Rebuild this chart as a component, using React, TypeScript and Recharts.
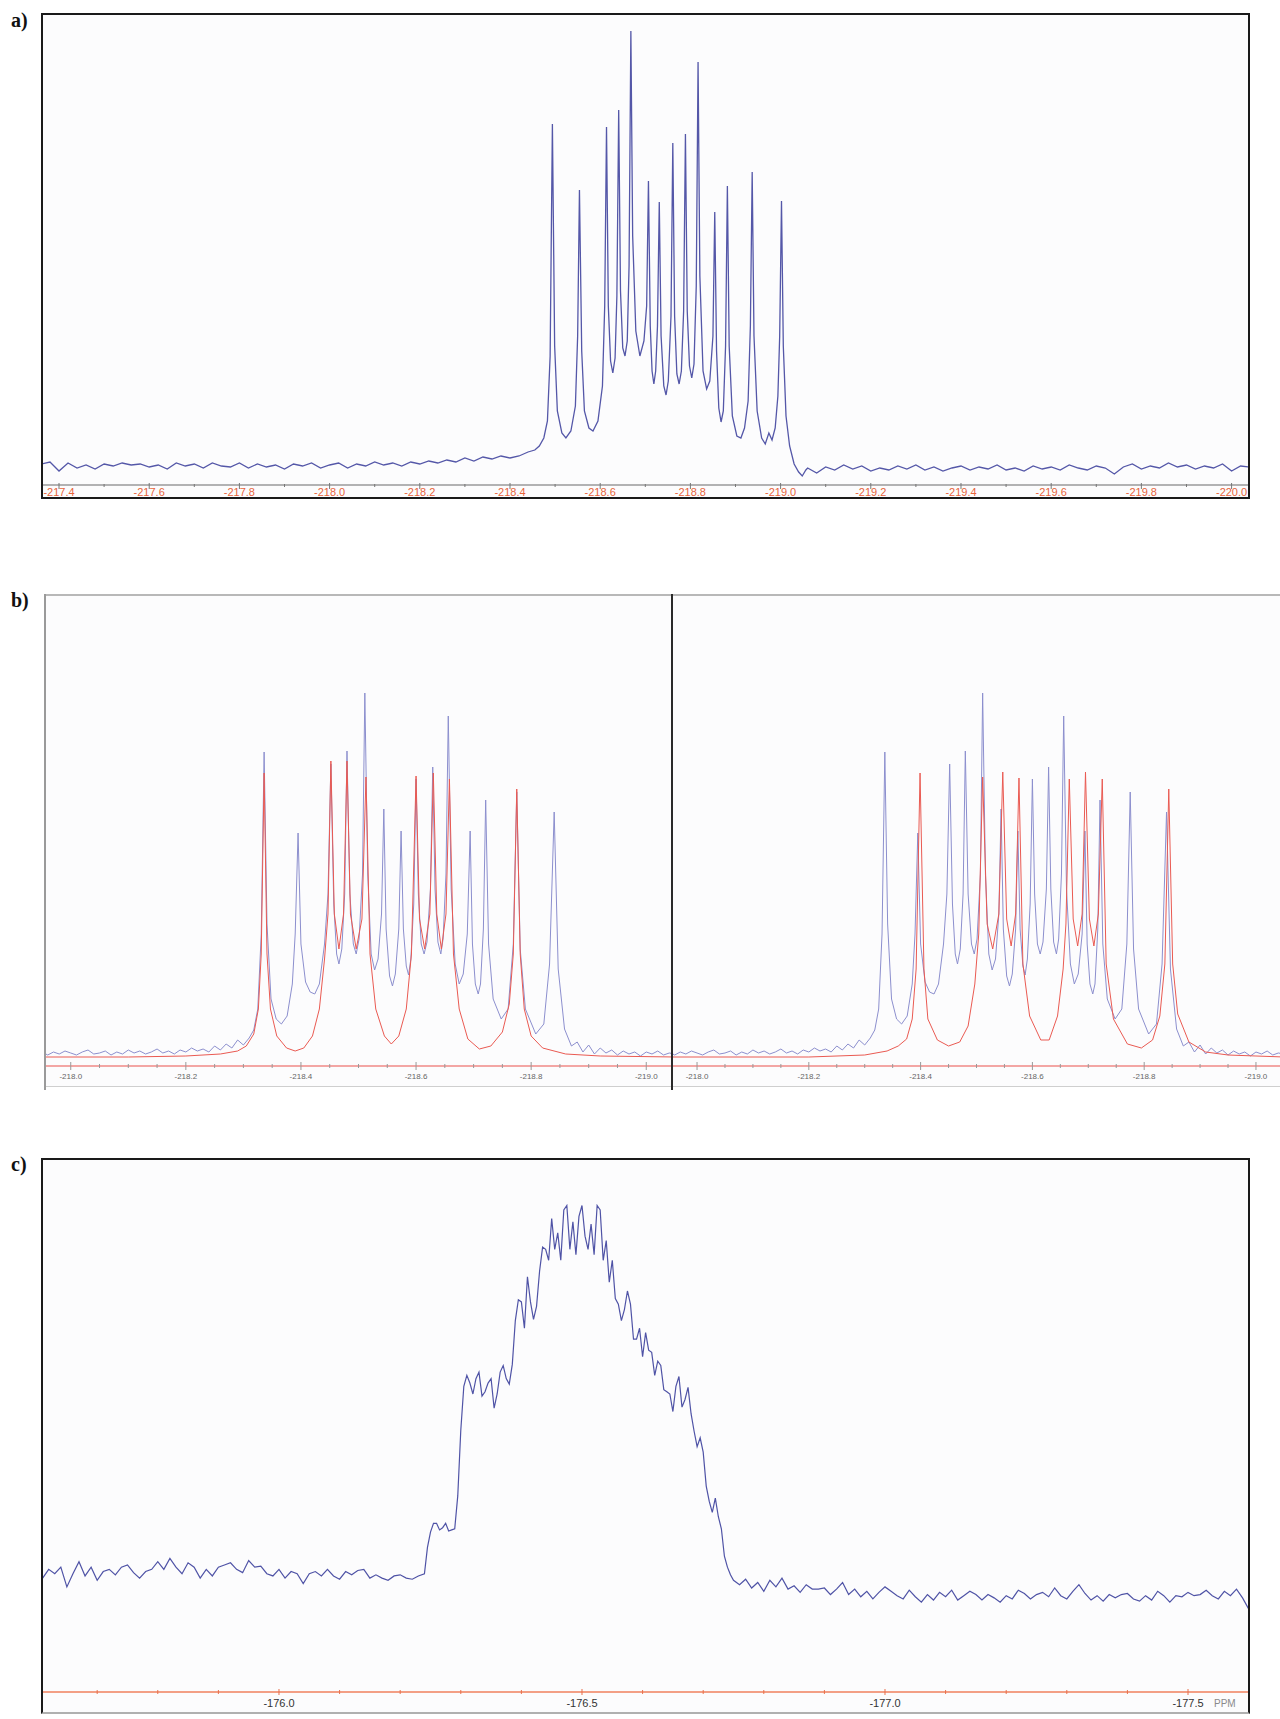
import React from "react";
import { LineChart, Line, XAxis, YAxis } from "recharts";

type Pt = [number, number];

// a) full 19F spectrum, ppm vs intensity (arbitrary units)
const aSpectrum: Pt[] = [
  [-217.36, 2], [-217.38, 4], [-217.4, -5], [-217.42, 3], [-217.44, -2], [-217.46, 1], [-217.48, -3],
  [-217.5, 2], [-217.52, 0], [-217.54, 3], [-217.56, 1], [-217.58, 2], [-217.6, -1], [-217.62, 1],
  [-217.64, -3], [-217.66, 3], [-217.68, 0], [-217.7, 2], [-217.72, -2], [-217.74, 3], [-217.76, 0],
  [-217.78, -1], [-217.8, 3], [-217.82, -2], [-217.84, 2], [-217.86, -1], [-217.88, 1], [-217.9, -3],
  [-217.92, 2], [-217.94, 0], [-217.96, 3], [-217.98, -2], [-218.0, 1], [-218.02, 3], [-218.04, -2],
  [-218.06, 2], [-218.08, 0], [-218.1, 4], [-218.12, 1], [-218.14, 3], [-218.16, 0], [-218.18, 4],
  [-218.2, 2], [-218.22, 5], [-218.24, 3], [-218.26, 6], [-218.28, 4], [-218.3, 8], [-218.32, 5],
  [-218.34, 9], [-218.36, 7], [-218.38, 10], [-218.4, 8], [-218.42, 10], [-218.44, 14], [-218.455, 16],
  [-218.465, 20], [-218.475, 28], [-218.483, 45], [-218.489, 110], [-218.494, 342], [-218.499, 120],
  [-218.505, 55], [-218.515, 33], [-218.524, 28], [-218.535, 35], [-218.545, 60], [-218.55, 130],
  [-218.554, 276], [-218.559, 115], [-218.565, 55], [-218.575, 38], [-218.584, 35], [-218.595, 45],
  [-218.605, 80], [-218.61, 160], [-218.614, 339], [-218.618, 160], [-218.623, 105], [-218.628, 93],
  [-218.633, 108], [-218.637, 170], [-218.641, 356], [-218.645, 175], [-218.65, 118], [-218.655, 110],
  [-218.66, 125], [-218.664, 200], [-218.668, 435], [-218.672, 230], [-218.679, 135], [-218.688, 110],
  [-218.697, 125], [-218.703, 160], [-218.707, 285], [-218.711, 140], [-218.715, 95], [-218.719, 82],
  [-218.723, 95], [-218.727, 140], [-218.731, 264], [-218.735, 130], [-218.741, 80], [-218.746, 71],
  [-218.751, 85], [-218.757, 150], [-218.761, 323], [-218.765, 150], [-218.77, 92], [-218.775, 82],
  [-218.78, 95], [-218.785, 155], [-218.789, 332], [-218.793, 155], [-218.798, 100], [-218.803, 88],
  [-218.808, 102], [-218.813, 180], [-218.817, 404], [-218.821, 190], [-218.828, 95], [-218.836, 77],
  [-218.843, 85], [-218.85, 130], [-218.854, 254], [-218.858, 115], [-218.863, 58], [-218.868, 44],
  [-218.873, 55], [-218.878, 120], [-218.882, 280], [-218.886, 120], [-218.893, 50], [-218.903, 30],
  [-218.912, 28], [-218.92, 38], [-218.928, 65], [-218.933, 140], [-218.937, 294], [-218.941, 130],
  [-218.948, 55], [-218.958, 28], [-218.966, 22], [-218.974, 33], [-218.981, 26], [-218.988, 38],
  [-218.994, 70], [-218.998, 130], [-219.002, 265], [-219.006, 120], [-219.012, 50], [-219.02, 20],
  [-219.03, 2], [-219.04, -6], [-219.048, -10], [-219.056, -4], [-219.06, -2], [-219.08, -7],
  [-219.1, -1], [-219.12, -4], [-219.14, 1], [-219.16, -3], [-219.18, 0], [-219.2, -5], [-219.22, -2],
  [-219.24, -4], [-219.26, 0], [-219.28, -3], [-219.3, 1], [-219.32, -4], [-219.34, -1], [-219.36, -5],
  [-219.38, -2], [-219.4, 0], [-219.42, -4], [-219.44, -1], [-219.46, -3], [-219.48, 1], [-219.5, -4],
  [-219.52, -2], [-219.54, -5], [-219.56, 0], [-219.58, -3], [-219.6, -1], [-219.62, -4], [-219.64, 1],
  [-219.66, -2], [-219.68, -4], [-219.7, 0], [-219.72, -2], [-219.74, -8], [-219.76, -1], [-219.78, 2],
  [-219.8, -3], [-219.82, 0], [-219.84, -2], [-219.86, 3], [-219.88, -1], [-219.9, 1], [-219.92, -3],
  [-219.94, 0], [-219.96, -2], [-219.98, 2], [-220.0, -5], [-220.02, 0], [-220.04, -1],
];

// b) observed multiplet (blue), same in both halves
const bObserved: Pt[] = [
  [-217.95, 2], [-217.96, -1], [-217.97, 2], [-217.98, 0], [-217.99, 3], [-218.0, 1], [-218.01, -1],
  [-218.02, 2], [-218.03, 4], [-218.04, 0], [-218.05, 1], [-218.06, 3], [-218.07, -1], [-218.08, 2],
  [-218.09, 0], [-218.1, 4], [-218.11, 1], [-218.12, 3], [-218.13, 0], [-218.14, 2], [-218.15, 5],
  [-218.16, 1], [-218.17, 3], [-218.18, 0], [-218.19, 4], [-218.2, 2], [-218.21, 6], [-218.22, 3],
  [-218.23, 5], [-218.24, 2], [-218.25, 8], [-218.26, 4], [-218.27, 10], [-218.28, 6], [-218.29, 14],
  [-218.3, 9], [-218.31, 16], [-218.318, 24], [-218.325, 45], [-218.331, 120], [-218.336, 302],
  [-218.341, 130], [-218.348, 55], [-218.357, 35], [-218.366, 30], [-218.376, 38], [-218.385, 70],
  [-218.39, 120], [-218.395, 221], [-218.4, 110], [-218.408, 72], [-218.416, 62], [-218.424, 60],
  [-218.432, 70], [-218.441, 110], [-218.447, 160], [-218.452, 290], [-218.457, 150], [-218.462, 100],
  [-218.466, 90], [-218.471, 105], [-218.476, 160], [-218.48, 303], [-218.485, 160], [-218.491, 110],
  [-218.496, 100], [-218.501, 115], [-218.507, 180], [-218.511, 361], [-218.516, 180], [-218.522, 100],
  [-218.528, 84], [-218.534, 95], [-218.54, 140], [-218.544, 245], [-218.548, 125], [-218.554, 78],
  [-218.559, 68], [-218.564, 80], [-218.57, 125], [-218.574, 223], [-218.578, 125], [-218.583, 88],
  [-218.587, 79], [-218.591, 95], [-218.596, 150], [-218.6, 275], [-218.604, 160], [-218.609, 110],
  [-218.614, 100], [-218.619, 112], [-218.625, 165], [-218.629, 287], [-218.633, 165], [-218.638, 112],
  [-218.643, 100], [-218.647, 115], [-218.652, 180], [-218.656, 338], [-218.661, 165], [-218.668, 90],
  [-218.675, 70], [-218.682, 80], [-218.689, 120], [-218.694, 223], [-218.698, 110], [-218.703, 70],
  [-218.708, 60], [-218.712, 70], [-218.717, 125], [-218.721, 254], [-218.726, 110], [-218.734, 55],
  [-218.748, 35], [-218.76, 45], [-218.769, 110], [-218.775, 262], [-218.781, 105], [-218.79, 45],
  [-218.808, 20], [-218.822, 30], [-218.832, 90], [-218.84, 242], [-218.847, 85], [-218.858, 25],
  [-218.87, 8], [-218.88, 12], [-218.89, 2], [-218.9, 9], [-218.91, 0], [-218.92, 6], [-218.93, 1],
  [-218.94, 4], [-218.95, -1], [-218.96, 3], [-218.97, 0], [-218.98, 2], [-218.99, -2], [-219.0, 2],
  [-219.01, 0], [-219.02, 3], [-219.03, -1], [-219.04, 1], [-219.05, 0],
];

// b) simulation, left half (red)
const bSimLeft: Pt[] = [
  [-217.95, -3], [-218.1, -3], [-218.2, -2], [-218.26, 0], [-218.29, 3], [-218.305, 8], [-218.318, 20],
  [-218.326, 45], [-218.331, 100], [-218.336, 281], [-218.341, 100], [-218.347, 45], [-218.358, 18],
  [-218.375, 6], [-218.39, 3], [-218.405, 6], [-218.42, 18], [-218.432, 45], [-218.441, 95],
  [-218.447, 140], [-218.452, 293], [-218.458, 140], [-218.466, 105], [-218.474, 140], [-218.48, 293],
  [-218.486, 140], [-218.496, 105], [-218.506, 135], [-218.513, 277], [-218.52, 100], [-218.53, 45],
  [-218.545, 18], [-218.557, 10], [-218.57, 18], [-218.583, 45], [-218.592, 100], [-218.6, 278],
  [-218.606, 135], [-218.615, 105], [-218.624, 140], [-218.63, 281], [-218.636, 140], [-218.644, 105],
  [-218.652, 140], [-218.658, 275], [-218.665, 100], [-218.675, 45], [-218.69, 15], [-218.71, 5],
  [-218.73, 8], [-218.75, 22], [-218.762, 50], [-218.769, 100], [-218.775, 265], [-218.781, 100],
  [-218.788, 45], [-218.8, 18], [-218.82, 6], [-218.86, 0], [-218.92, -2], [-219.05, -3],
];

// b) simulation, right half (red)
const bSimRight: Pt[] = [
  [-217.95, -3], [-218.2, -3], [-218.3, -1], [-218.34, 3], [-218.36, 8], [-218.375, 15], [-218.385, 35],
  [-218.392, 85], [-218.399, 281], [-218.406, 85], [-218.413, 35], [-218.43, 14], [-218.45, 8],
  [-218.47, 12], [-218.485, 28], [-218.497, 70], [-218.504, 120], [-218.511, 277], [-218.519, 130],
  [-218.529, 105], [-218.54, 140], [-218.547, 282], [-218.554, 135], [-218.562, 108], [-218.57, 140],
  [-218.576, 276], [-218.583, 90], [-218.595, 38], [-218.615, 14], [-218.63, 14], [-218.645, 38],
  [-218.655, 85], [-218.66, 130], [-218.666, 275], [-218.673, 135], [-218.681, 108], [-218.689, 140],
  [-218.695, 282], [-218.702, 135], [-218.71, 108], [-218.718, 140], [-218.725, 275], [-218.732, 90],
  [-218.745, 35], [-218.77, 10], [-218.795, 6], [-218.815, 14], [-218.828, 38], [-218.837, 90],
  [-218.844, 265], [-218.851, 90], [-218.86, 40], [-218.88, 12], [-218.91, 2], [-218.95, -1],
  [-219.0, -2], [-219.05, -3],
];

// c) 19F spectrum of the second sample
const cSpectrum: Pt[] = [
  [-175.61, 40], [-175.62, 48], [-175.63, 44], [-175.64, 50], [-175.65, 32], [-175.66, 44], [-175.67, 55],
  [-175.68, 42], [-175.69, 50], [-175.7, 38], [-175.71, 46], [-175.72, 48], [-175.73, 43], [-175.74, 50],
  [-175.75, 52], [-175.76, 45], [-175.77, 40], [-175.78, 46], [-175.79, 48], [-175.8, 55], [-175.81, 48],
  [-175.82, 58], [-175.83, 50], [-175.84, 44], [-175.85, 54], [-175.86, 50], [-175.87, 40], [-175.88, 48],
  [-175.89, 42], [-175.9, 50], [-175.91, 52], [-175.92, 54], [-175.93, 48], [-175.94, 45], [-175.95, 56],
  [-175.96, 50], [-175.97, 51], [-175.98, 44], [-175.99, 42], [-176.0, 48], [-176.01, 40], [-176.02, 46],
  [-176.03, 44], [-176.04, 35], [-176.05, 44], [-176.06, 46], [-176.07, 42], [-176.08, 48], [-176.09, 42],
  [-176.1, 39], [-176.11, 46], [-176.12, 43], [-176.13, 47], [-176.14, 48], [-176.15, 40], [-176.16, 43],
  [-176.17, 40], [-176.18, 38], [-176.19, 42], [-176.2, 43], [-176.21, 40], [-176.22, 39], [-176.23, 42],
  [-176.24, 44], [-176.245, 68], [-176.25, 82], [-176.255, 90], [-176.26, 90], [-176.265, 84],
  [-176.27, 86], [-176.275, 90], [-176.28, 83], [-176.285, 84], [-176.29, 85], [-176.295, 115],
  [-176.3, 175], [-176.305, 215], [-176.31, 225], [-176.315, 218], [-176.32, 208], [-176.325, 222],
  [-176.33, 228], [-176.335, 206], [-176.34, 210], [-176.345, 218], [-176.35, 222], [-176.355, 195],
  [-176.36, 208], [-176.365, 228], [-176.37, 234], [-176.375, 222], [-176.38, 217], [-176.385, 235],
  [-176.39, 275], [-176.395, 294], [-176.4, 292], [-176.405, 268], [-176.41, 315], [-176.415, 292],
  [-176.42, 276], [-176.425, 288], [-176.43, 320], [-176.435, 342], [-176.44, 340], [-176.445, 330],
  [-176.45, 368], [-176.455, 340], [-176.46, 355], [-176.465, 330], [-176.47, 376], [-176.475, 380],
  [-176.48, 340], [-176.485, 365], [-176.49, 335], [-176.495, 370], [-176.5, 380], [-176.505, 352],
  [-176.51, 340], [-176.515, 363], [-176.52, 335], [-176.525, 380], [-176.53, 376], [-176.535, 330],
  [-176.54, 348], [-176.545, 310], [-176.55, 330], [-176.555, 295], [-176.56, 290], [-176.565, 275],
  [-176.57, 285], [-176.575, 302], [-176.58, 290], [-176.585, 258], [-176.59, 258], [-176.595, 268],
  [-176.6, 242], [-176.605, 264], [-176.61, 248], [-176.615, 246], [-176.62, 225], [-176.625, 238],
  [-176.63, 234], [-176.635, 212], [-176.64, 210], [-176.645, 208], [-176.65, 192], [-176.655, 215],
  [-176.66, 224], [-176.665, 196], [-176.67, 203], [-176.675, 214], [-176.68, 190], [-176.685, 174],
  [-176.69, 160], [-176.695, 168], [-176.7, 155], [-176.705, 124], [-176.71, 110], [-176.715, 100],
  [-176.72, 113], [-176.725, 96], [-176.73, 85], [-176.735, 60], [-176.74, 50], [-176.745, 43],
  [-176.75, 38], [-176.76, 34], [-176.77, 39], [-176.78, 31], [-176.79, 36], [-176.8, 28], [-176.81, 38],
  [-176.82, 32], [-176.83, 40], [-176.84, 30], [-176.85, 33], [-176.86, 27], [-176.87, 34], [-176.88, 30],
  [-176.89, 30], [-176.9, 31], [-176.91, 25], [-176.92, 30], [-176.93, 36], [-176.94, 25], [-176.95, 30],
  [-176.96, 23], [-176.97, 28], [-176.98, 21], [-176.99, 27], [-177.0, 32], [-177.01, 28], [-177.02, 24],
  [-177.03, 21], [-177.04, 29], [-177.05, 23], [-177.06, 18], [-177.07, 25], [-177.08, 20], [-177.09, 27],
  [-177.1, 23], [-177.11, 29], [-177.12, 20], [-177.13, 24], [-177.14, 28], [-177.15, 25], [-177.16, 20],
  [-177.17, 25], [-177.18, 22], [-177.19, 18], [-177.2, 24], [-177.21, 21], [-177.22, 29], [-177.23, 26],
  [-177.24, 21], [-177.25, 25], [-177.26, 27], [-177.27, 23], [-177.28, 31], [-177.29, 24], [-177.3, 21],
  [-177.31, 28], [-177.32, 34], [-177.33, 26], [-177.34, 20], [-177.35, 24], [-177.36, 19], [-177.37, 25],
  [-177.38, 22], [-177.39, 25], [-177.4, 26], [-177.41, 21], [-177.42, 19], [-177.43, 24], [-177.44, 20],
  [-177.45, 28], [-177.46, 24], [-177.47, 18], [-177.48, 24], [-177.49, 23], [-177.5, 27], [-177.51, 24],
  [-177.52, 25], [-177.53, 29], [-177.54, 24], [-177.55, 21], [-177.56, 28], [-177.57, 24], [-177.58, 30],
  [-177.59, 22], [-177.6, 12],
];

const aTicks = [
  -217.4, -217.5, -217.6, -217.7, -217.8, -217.9, -218.0, -218.1, -218.2, -218.3, -218.4, -218.5, -218.6,
  -218.7, -218.8, -218.9, -219.0, -219.1, -219.2, -219.3, -219.4, -219.5, -219.6, -219.7, -219.8, -219.9, -220.0,
];
const aLabels = [-217.4, -217.6, -217.8, -218.0, -218.2, -218.4, -218.6, -218.8, -219.0, -219.2, -219.4, -219.6, -219.8, -220.0];

const bTicks = [
  -218.0, -218.05, -218.1, -218.15, -218.2, -218.25, -218.3, -218.35, -218.4, -218.45, -218.5, -218.55,
  -218.6, -218.65, -218.7, -218.75, -218.8, -218.85, -218.9, -218.95, -219.0,
];
const bLabels = [-218.0, -218.2, -218.4, -218.6, -218.8, -219.0];

const cTicks = [
  -175.7, -175.8, -175.9, -176.0, -176.1, -176.2, -176.3, -176.4, -176.5, -176.6, -176.7, -176.8, -176.9,
  -177.0, -177.1, -177.2, -177.3, -177.4, -177.5,
];
const cLabels = [-176.0, -176.5, -177.0, -177.5];

const toRows = (pts: Pt[]) => pts.map(([x, y]) => ({ x, y }));

type TickLook = {
  text: string;
  mark: string;
  font: number;
  dy: number;
  major: [number, number];
  minor: [number, number];
  weight?: string;
  unit?: string;
};

function AxisTick(props: any) {
  const { x, y, payload, labels, look } = props;
  const v = payload.value;
  const isMajor = labels.some((l: number) => Math.abs(l - v) < 1e-6);
  const [up, down] = isMajor ? look.major : look.minor;
  return (
    <g>
      <line x1={x} x2={x} y1={y - up} y2={y + down} stroke={look.mark} strokeWidth={1} />
      {isMajor && (
        <text
          x={x}
          y={y + look.dy}
          textAnchor="middle"
          fill={look.text}
          fontSize={look.font}
          fontWeight={look.weight || "normal"}
          fontFamily="Liberation Sans, Arial, sans-serif"
        >
          {v.toFixed(1)}
        </text>
      )}
      {isMajor && look.unit && Math.abs(v - labels[labels.length - 1]) < 1e-6 && (
        <text x={x + 26} y={y + look.dy} textAnchor="start" fill="#8a8a8a" fontSize={look.font - 1} fontFamily="Liberation Sans, Arial, sans-serif">
          {look.unit}
        </text>
      )}
    </g>
  );
}

type Series = { points: Pt[]; color: string; width: number };

function Spectrum(p: {
  width: number;
  height: number;
  xDomain: [number, number];
  yDomain: [number, number];
  ticks: number[];
  labels: number[];
  look: TickLook;
  axisColor: string;
  axisHeight: number;
  series: Series[];
}) {
  return (
    <LineChart width={p.width} height={p.height} margin={{ top: 0, right: 0, bottom: 0, left: 0 }}>
      <XAxis
        type="number"
        dataKey="x"
        domain={p.xDomain}
        reversed
        allowDataOverflow
        ticks={p.ticks}
        interval={0}
        height={p.axisHeight}
        axisLine={{ stroke: p.axisColor, strokeWidth: 1.5 }}
        tickLine={false}
        tickSize={0}
        tickMargin={0}
        tick={(t: any) => <AxisTick {...t} labels={p.labels} look={p.look} />}
      />
      <YAxis hide type="number" domain={p.yDomain} allowDataOverflow />
      {p.series.map((s, i) => (
        <Line
          key={i}
          data={toRows(s.points)}
          dataKey="y"
          type="linear"
          stroke={s.color}
          strokeWidth={s.width}
          dot={false}
          isAnimationActive={false}
        />
      ))}
    </LineChart>
  );
}

const panelLabel: React.CSSProperties = {
  position: "absolute",
  fontFamily: "Liberation Serif, 'Times New Roman', serif",
  fontWeight: "bold",
  fontSize: 20,
  lineHeight: "20px",
  color: "#111",
};

const lookA: TickLook = { text: "#e8643c", mark: "#777", font: 11, dy: 11, major: [2, 4], minor: [1, 2] };
const lookB: TickLook = { text: "#666", mark: "#999", font: 8, dy: 13, major: [4, 4], minor: [2, 2] };
const lookC: TickLook = { text: "#333", mark: "#e8704c", font: 11, dy: 15, major: [3, 3], minor: [2, 2], unit: "PPM" };

export default function App() {
  return (
    <div style={{ position: "absolute", left: 0, top: 0, width: 1280, height: 1719, background: "#fff" }}>
      <div style={{ ...panelLabel, left: 11, top: 10 }}>a)</div>
      <div
        style={{
          position: "absolute", left: 41, top: 13, width: 1209, height: 486,
          border: "2px solid #1a1a1a", boxSizing: "border-box", background: "#fcfcfd",
        }}
      >
        <Spectrum
          width={1205}
          height={482}
          xDomain={[-220.0364, -217.3645]}
          yDomain={[-19, 451]}
          ticks={aTicks}
          labels={aLabels}
          look={lookA}
          axisColor="#9a9a9a"
          axisHeight={12}
          series={[{ points: aSpectrum, color: "#5457a8", width: 1.3 }]}
        />
      </div>

      <div style={{ ...panelLabel, left: 11, top: 590 }}>b)</div>
      <div style={{ position: "absolute", left: 44, top: 594, width: 1236, height: 2, background: "#b8b8b8" }} />
      <div style={{ position: "absolute", left: 44, top: 1086, width: 1236, height: 1, background: "#cfcfcf" }} />
      <div style={{ position: "absolute", left: 46, top: 596, width: 625, height: 490, background: "#fcfcfd" }}>
        <Spectrum
          width={625}
          height={490}
          xDomain={[-219.043, -217.957]}
          yDomain={[-12, 458]}
          ticks={bTicks}
          labels={bLabels}
          look={lookB}
          axisColor="#f08a86"
          axisHeight={20}
          series={[
            { points: bObserved, color: "#8c8fce", width: 1 },
            { points: bSimLeft, color: "#ea5a52", width: 1 },
          ]}
        />
      </div>
      <div style={{ position: "absolute", left: 673, top: 596, width: 607, height: 490, background: "#fcfcfd" }}>
        <Spectrum
          width={607}
          height={490}
          xDomain={[-219.043, -217.957]}
          yDomain={[-12, 458]}
          ticks={bTicks}
          labels={bLabels}
          look={lookB}
          axisColor="#f08a86"
          axisHeight={20}
          series={[
            { points: bObserved, color: "#8c8fce", width: 1 },
            { points: bSimRight, color: "#ea5a52", width: 1 },
          ]}
        />
      </div>
      <div style={{ position: "absolute", left: 44, top: 594, width: 2, height: 496, background: "#9a9a9a" }} />
      <div style={{ position: "absolute", left: 671, top: 594, width: 2, height: 496, background: "#2a2a2a" }} />

      <div style={{ ...panelLabel, left: 11, top: 1154 }}>c)</div>
      <div
        style={{
          position: "absolute", left: 41, top: 1158, width: 1209, height: 556,
          border: "2px solid #1a1a1a", borderBottomColor: "#b0b0b0", boxSizing: "border-box", background: "#fcfcfd",
        }}
      >
        <Spectrum
          width={1205}
          height={552}
          xDomain={[-177.599, -175.6106]}
          yDomain={[-63.9, 421.5]}
          ticks={cTicks}
          labels={cLabels}
          look={lookC}
          axisColor="#f0805c"
          axisHeight={20}
          series={[{ points: cSpectrum, color: "#4f53a6", width: 1.2 }]}
        />
      </div>
    </div>
  );
}
